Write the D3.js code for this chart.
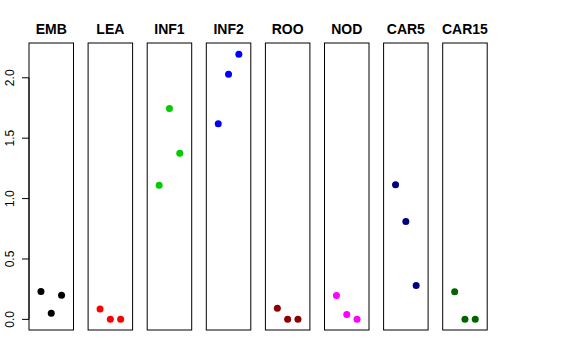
<!DOCTYPE html>
<html>
<head>
<meta charset="utf-8">
<script src="https://cdn.jsdelivr.net/npm/d3@7"></script>
<style>
  body { margin: 0; background: #fff; }
  text { font-family: "Liberation Sans", Arial, sans-serif; }
</style>
</head>
<body>
<div id="chart"></div>
<script>
// panel names and their point colours
const groups = ["EMB", "LEA", "INF1", "INF2", "ROO", "NOD", "CAR5", "CAR15"];
const colors = ["#000000", "#FF0000", "#00CD00", "#0000FF", "#8B0000", "#FF00FF", "#000080", "#006400"];

// three values per panel
const emb   = [0.23, 0.05, 0.20];
const lea   = [0.085, 0.0, 0.0];
const inf1  = [1.11, 1.745, 1.375];
const inf2  = [1.62, 2.03, 2.195];
const roo   = [0.093, 0.0, 0.0];
const nod   = [0.198, 0.04, 0.0];
const car5  = [1.114, 0.81, 0.28];
const car15 = [0.228, 0.0, 0.0];
const values = [emb, lea, inf1, inf2, roo, nod, car5, car15];

const yTicks = [0, 0.5, 1.0, 1.5, 2.0];

const width = 576, height = 360;
const panelW = 44.5, panelStep = 59.1, plotLeft = 29;
const plotTop = 43, plotBottom = 330;

const svg = d3.select("#chart").append("svg")
    .attr("width", width)
    .attr("height", height);

// R style 4% expansion around [0, 2.2]
const y = d3.scaleLinear()
    .domain([-0.088, 2.288])
    .range([plotBottom, plotTop]);

// x positions 1..3 inside xlim [0,4] with 4% expansion
const x = d3.scaleLinear()
    .domain([-0.16, 4.16])
    .range([0, panelW]);

// y axis on the first panel
const yAxis = d3.axisLeft(y)
    .tickValues(yTicks)
    .tickSize(7)
    .tickFormat(d3.format(".1f"));

const ax = svg.append("g")
    .attr("transform", "translate(" + plotLeft + ",0)")
    .call(yAxis);
ax.select(".domain").attr("d", "M0," + y(0) + "V" + y(2));
ax.selectAll("line").attr("stroke", "#000");
ax.selectAll(".tick").attr("transform", null);
ax.selectAll(".tick line")
    .attr("y1", d => y(d))
    .attr("y2", d => y(d));
ax.selectAll(".tick text")
    .attr("font-size", 12)
    .attr("font-family", "Liberation Sans, Arial, sans-serif")
    .attr("fill", "#000")
    .attr("transform", d => "rotate(-90," + (-15) + "," + y(d) + ")")
    .attr("x", -15)
    .attr("y", d => y(d))
    .attr("dy", 0)
    .attr("text-anchor", "middle");

groups.forEach((g, i) => {
    const px = plotLeft + i * panelStep;
    const panel = svg.append("g")
        .attr("transform", "translate(" + px + ",0)");

    panel.append("rect")
        .attr("x", 0)
        .attr("y", plotTop)
        .attr("width", panelW)
        .attr("height", plotBottom - plotTop)
        .attr("fill", "none")
        .attr("stroke", "#000")
        .attr("stroke-width", 1);

    panel.append("text")
        .attr("x", panelW / 2)
        .attr("y", 34)
        .attr("text-anchor", "middle")
        .attr("font-size", 14)
        .attr("font-weight", "bold")
        .text(g);

    panel.selectAll("circle")
        .data(values[i])
        .enter()
        .append("circle")
        .attr("cx", (d, j) => x(j + 1))
        .attr("cy", d => y(d))
        .attr("r", 3.5)
        .attr("fill", colors[i]);
});
</script>
</body>
</html>
